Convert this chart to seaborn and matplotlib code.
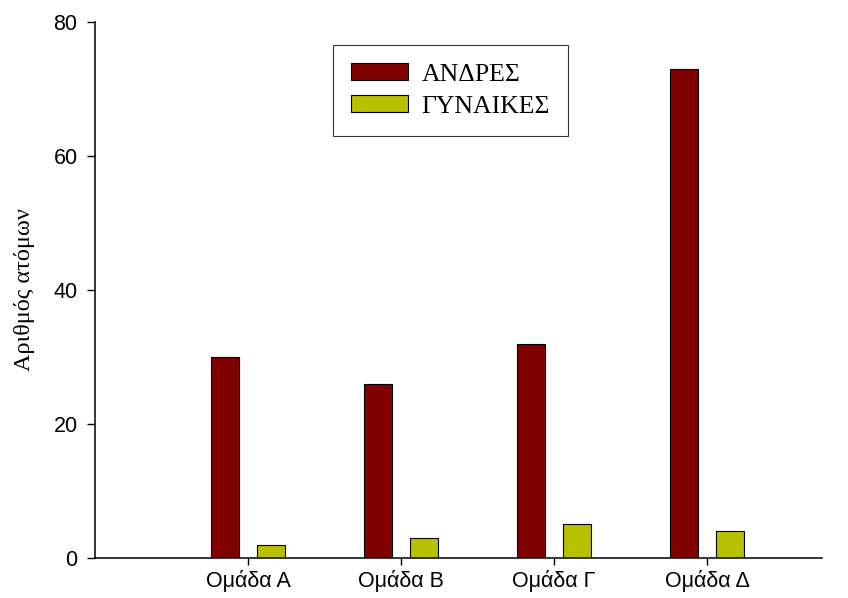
import pandas as pd
import matplotlib
matplotlib.use("Agg")
import matplotlib.pyplot as plt
import seaborn as sns

# data
groups = ["Ομάδα Α", "Ομάδα Β", "Ομάδα Γ", "Ομάδα Δ"]
men = [30, 26, 32, 73]
women = [2, 3, 5, 4]
series_names = ["ΑΝΔΡΕΣ", "ΓΥΝΑΙΚΕΣ"]
colors = ["#800000", "#b8c000"]

df = pd.DataFrame({
    "group": groups * 2,
    "count": men + women,
    "sex": [series_names[0]] * len(groups) + [series_names[1]] * len(groups),
})

sns.set_style("ticks")
plt.rcParams["font.family"] = ["Liberation Sans", "DejaVu Sans"]
plt.rcParams["text.color"] = "black"
plt.rcParams["xtick.color"] = "black"
plt.rcParams["ytick.color"] = "black"
plt.rcParams["axes.labelcolor"] = "black"

fig = plt.figure(figsize=(8.48, 5.98), dpi=100)
ax = fig.add_axes([0.112, 0.067, 0.857, 0.896])

sns.barplot(data=df, x="group", y="count", hue="sex", palette=colors,
            saturation=1, width=0.6, gap=0.4, edgecolor="black",
            linewidth=0.8, errorbar=None, ax=ax)

ax.set_xlim(-1, 3.75)
ax.set_ylim(0, 80)
ax.set_yticks([0, 20, 40, 60, 80])
ax.set_xlabel("")
ax.set_ylabel("Αριθμός ατόμων", family=["Liberation Serif", "DejaVu Serif"],
              fontsize=17.5, labelpad=13)
ax.tick_params(axis="both", labelsize=15.5, direction="out", width=1)
ax.tick_params(axis="y", length=6, pad=6.5)
ax.tick_params(axis="x", length=5, pad=4)
sns.despine(ax=ax)
for s in ["left", "bottom"]:
    ax.spines[s].set_linewidth(1.1)
    ax.spines[s].set_color("black")

leg = ax.legend(loc="upper left", bbox_to_anchor=(0.327, 0.957),
                frameon=True, fancybox=False, edgecolor="black",
                prop={"family": ["Liberation Serif", "DejaVu Serif"], "size": 18.5},
                handlelength=2.25, handleheight=0.62, handletextpad=0.5,
                labelspacing=0.38, borderpad=0.7, borderaxespad=0)
leg.get_frame().set_linewidth(0.8)

fig.savefig("out.png", dpi=100)
